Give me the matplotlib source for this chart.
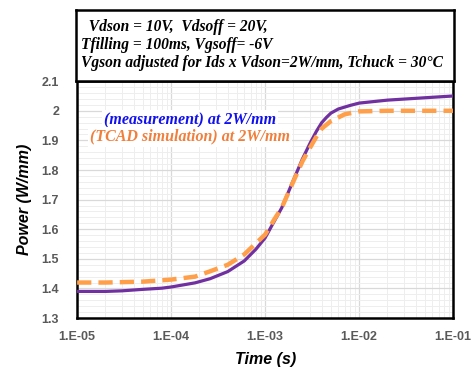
import matplotlib

matplotlib.use("Agg")
import matplotlib.pyplot as plt
from matplotlib.ticker import FixedLocator, MultipleLocator, LogLocator, NullFormatter

# measured power vs time
t_meas = [1e-5, 2e-5, 3e-5, 5e-5, 8e-5, 1e-4, 1.8e-4, 2.6e-4, 4e-4, 6e-4,
          8e-4, 1e-3, 1.25e-3, 1.5e-3, 2e-3, 2.5e-3, 3e-3, 3.5e-3, 4e-3,
          4.5e-3, 5e-3, 6e-3, 8e-3, 1e-2, 2e-2, 5e-2, 1e-1]
p_meas = [1.39, 1.39, 1.392, 1.397, 1.401, 1.405, 1.419, 1.433, 1.457, 1.493,
          1.533, 1.571, 1.627, 1.672, 1.766, 1.838, 1.89, 1.93, 1.96,
          1.978, 1.992, 2.006, 2.018, 2.026, 2.036, 2.044, 2.05]

# TCAD simulation
t_sim = [1e-5, 2e-5, 5e-5, 1e-4, 1.8e-4, 2.6e-4, 4e-4, 6e-4, 8e-4, 1e-3,
         1.25e-3, 1.5e-3, 2e-3, 2.5e-3, 3e-3, 3.5e-3, 4e-3, 5e-3, 7e-3,
         1e-2, 2e-2, 5e-2, 1e-1]
p_sim = [1.42, 1.42, 1.423, 1.43, 1.44, 1.458, 1.48, 1.515, 1.553, 1.582,
         1.633, 1.672, 1.762, 1.83, 1.875, 1.912, 1.94, 1.965, 1.988,
         1.998, 2.0, 2.0, 2.0]

x_ticks = [1e-5, 1e-4, 1e-3, 1e-2, 1e-1]
x_labels = ["1.E-05", "1.E-04", "1.E-03", "1.E-02", "1.E-01"]
y_ticks = [1.3, 1.4, 1.5, 1.6, 1.7, 1.8, 1.9, 2.0, 2.1]
y_labels = ["1.3", "1.4", "1.5", "1.6", "1.7", "1.8", "1.9", "2", "2.1"]

conditions = [
    "  Vdson = 10V,  Vdsoff = 20V,",
    "Tfilling = 100ms, Vgsoff= -6V",
    "Vgson adjusted for Ids x Vdson=2W/mm, Tchuck = 30°C",
]

serif = "Liberation Serif"
sans = "Liberation Sans"

fig = plt.figure(figsize=(4.76, 3.69), dpi=100)
ax = fig.add_axes([0.162, 0.138, 0.790, 0.642])

ax.plot(t_meas, p_meas, color="#7030A0", lw=2.3, zorder=3)
ax.plot(t_sim, p_sim, color="#FF9F4A", lw=3.2, ls=(0, (3.2, 1.6)), zorder=4)

ax.set_xscale("log")
ax.set_xlim(1e-5, 1e-1)
ax.set_ylim(1.3, 2.1)
ax.xaxis.set_major_locator(FixedLocator(x_ticks))
ax.set_xticklabels(x_labels)
ax.xaxis.set_minor_locator(LogLocator(base=10, subs=range(2, 10)))
ax.xaxis.set_minor_formatter(NullFormatter())
ax.yaxis.set_major_locator(FixedLocator(y_ticks))
ax.set_yticklabels(y_labels)
ax.yaxis.set_minor_locator(MultipleLocator(0.02))

ax.grid(which="major", color="#d9d9d9", lw=0.9)
ax.grid(which="minor", color="#eeeeee", lw=0.7)
ax.set_axisbelow(True)
ax.tick_params(which="both", length=0)
ax.tick_params(axis="x", labelsize=9, labelcolor="#595959", pad=9)
ax.tick_params(axis="y", labelsize=9, labelcolor="#595959", pad=13)
for lab in ax.get_xticklabels() + ax.get_yticklabels():
    lab.set_fontfamily(sans)
    lab.set_fontweight("bold")
for sp in ax.spines.values():
    sp.set_color("black")
    sp.set_linewidth(1.8)

ax.set_xlabel("Time (s)", fontsize=11.5, fontweight="bold", fontstyle="italic",
              family=sans, labelpad=7)
ax.set_ylabel("Power (W/mm)", fontsize=11.5, fontweight="bold", fontstyle="italic",
              family=sans, labelpad=7)

# legend-like labels
ax.text(0.30, 0.835, "(measurement) at 2W/mm", transform=ax.transAxes,
        ha="center", va="center", color="#1010F0", fontsize=11.5,
        family=serif, fontweight="bold", fontstyle="italic", zorder=5,
        bbox=dict(facecolor="white", edgecolor="none", pad=1.5))
ax.text(0.30, 0.765, "(TCAD simulation) at 2W/mm", transform=ax.transAxes,
        ha="center", va="center", color="#F07F3C", fontsize=11.5,
        family=serif, fontweight="bold", fontstyle="italic", zorder=5,
        bbox=dict(facecolor="white", edgecolor="none", pad=1.5))

# conditions box above the plot
box = fig.add_axes([0.160, 0.780, 0.794, 0.193])
box.set_xticks([])
box.set_yticks([])
for sp in box.spines.values():
    sp.set_linewidth(1.8)
for i, line in enumerate(conditions):
    box.text(0.012, 0.76 - i * 0.25, line, transform=box.transAxes,
             ha="left", va="center", fontsize=11.2, family=serif,
             fontweight="bold", fontstyle="italic")

fig.savefig("out.png", dpi=100)
